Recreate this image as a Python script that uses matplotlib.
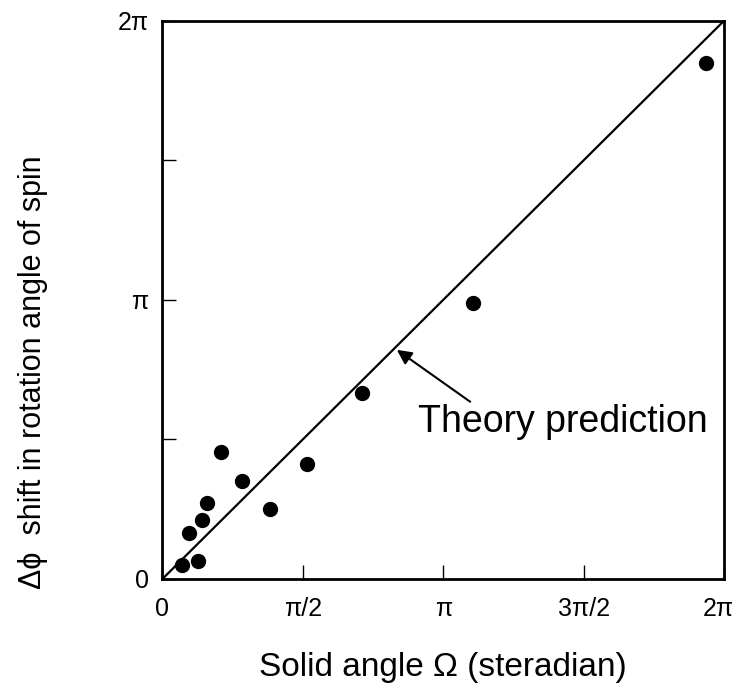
import matplotlib
matplotlib.use('Agg')
import matplotlib.pyplot as plt
import matplotlib.transforms as mtransforms
import numpy as np

plt.rcParams['font.family'] = ['Liberation Sans', 'DejaVu Sans']

# measured points, in units of pi
omega_pi = [0.068, 0.128, 0.096, 0.140, 0.160, 0.207, 0.282, 0.383, 0.514, 0.710, 1.106, 1.937]
dphi_pi = [0.050, 0.066, 0.166, 0.211, 0.273, 0.456, 0.351, 0.251, 0.411, 0.668, 0.990, 1.848]

tick_vals = [0, 0.5, 1, 1.5, 2]
xtick_labels = ['0', 'π/2', 'π', '3π/2', '2π']
ytick_labels = ['0', '', 'π', '', '2π']

x = np.array(omega_pi) * np.pi
y = np.array(dphi_pi) * np.pi

fig = plt.figure(figsize=(7.35, 6.95), dpi=100)
ax = fig.add_axes([0.221, 0.167, 0.764, 0.803])

# theory: rotation shift equals solid angle
line = np.array([0, 2]) * np.pi
ax.plot(line, line, color='black', lw=1.6)
ax.plot(x, y, 'o', color='black', ms=10)

ax.set_xlim(0, 2 * np.pi)
ax.set_ylim(0, 2 * np.pi)
ax.set_xticks(np.array(tick_vals) * np.pi)
ax.set_xticklabels(xtick_labels)
ax.set_yticks(np.array(tick_vals) * np.pi)
ax.set_yticklabels(ytick_labels)
ax.tick_params(direction='in', length=10, width=1, labelsize=18, pad=10)
ax.tick_params(axis='x', pad=13)
for s in ax.spines.values():
    s.set_linewidth(2)

# last x label sits a bit left so it fits
lab = ax.get_xticklabels()[-1]
lab.set_transform(lab.get_transform() + mtransforms.ScaledTranslation(-6 / 100, 0, fig.dpi_scale_trans))

ax.annotate('Theory prediction', xy=(0.835 * np.pi, 0.821 * np.pi),
            xytext=(0.911 * np.pi, 0.528 * np.pi), fontsize=27,
            va='baseline', ha='left')
ax.annotate('', xy=(0.835 * np.pi, 0.821 * np.pi),
            xytext=(1.096 * np.pi, 0.635 * np.pi),
            arrowprops=dict(arrowstyle='-|>', color='black', lw=1.5,
                            mutation_scale=22, shrinkA=0, shrinkB=0))

ax.set_xlabel('Solid angle Ω (steradian)', fontsize=24, labelpad=22)
ax.set_ylabel('Δϕ  shift in rotation angle of spin', fontsize=22)
ax.yaxis.set_label_coords(-0.203, 0.371)

fig.savefig('out.png', dpi=100)
